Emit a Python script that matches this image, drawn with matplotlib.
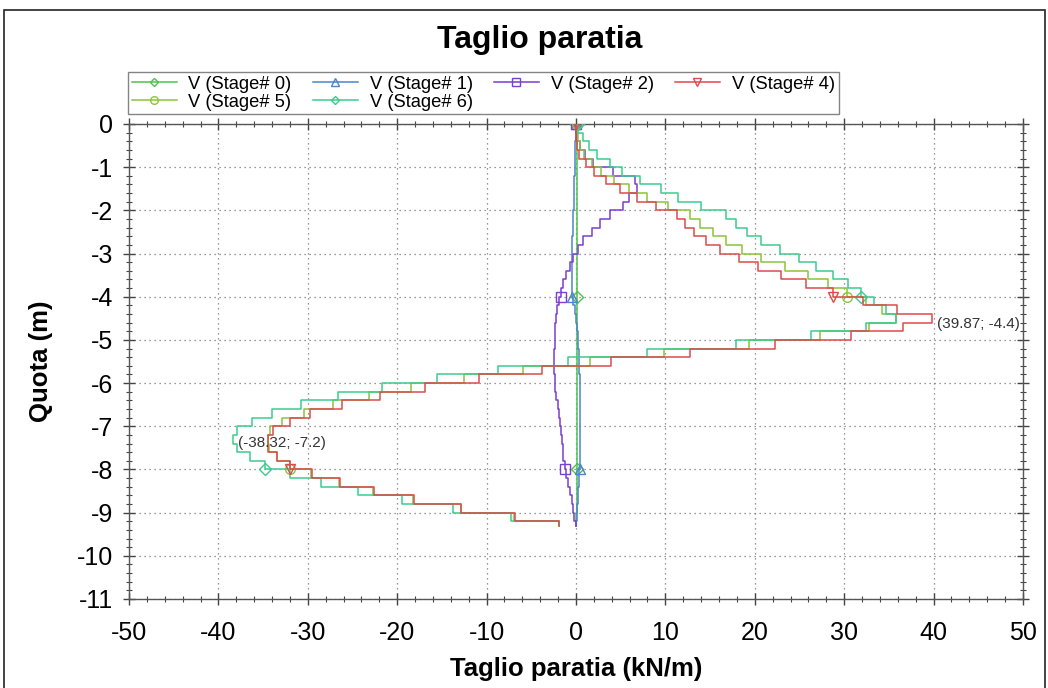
import matplotlib
matplotlib.use("Agg")
import numpy as np
import matplotlib.pyplot as plt
from matplotlib.lines import Line2D
from matplotlib.patches import Rectangle
from matplotlib.ticker import MultipleLocator

plt.rcParams['font.family'] = ['Liberation Sans', 'DejaVu Sans']
plt.rcParams['axes.unicode_minus'] = False

# depth of the step boundaries (m)
quota = [0.0, -0.2, -0.4, -0.6, -0.8, -1.0, -1.2, -1.4, -1.6, -1.8,
         -2.0, -2.2, -2.4, -2.6, -2.8, -3.0, -3.2, -3.4, -3.6, -3.8,
         -4.0, -4.2, -4.4, -4.6, -4.8, -5.0, -5.2, -5.4, -5.6, -5.8,
         -6.0, -6.2, -6.4, -6.6, -6.8, -7.0, -7.2, -7.4, -7.6, -7.8,
         -8.0, -8.2, -8.4, -8.6, -8.8, -9.0, -9.2, -9.3]

# shear (kN/m) for each depth interval
stage0 = [0.05, 0.05, 0.06, 0.06, 0.07, 0.07, 0.08, 0.08, 0.08, 0.09,
          0.09, 0.09, 0.1, 0.1, 0.1, 0.1, 0.1, 0.1, 0.1, 0.1,
          0.1, 0.1, 0.1, 0.1, 0.1, 0.1, 0.1, 0.1, 0.1, 0.1,
          0.1, 0.1, 0.1, 0.1, 0.1, 0.1, 0.1, 0.1, 0.1, 0.1,
          0.1, 0.09, 0.08, 0.07, 0.06, 0.05, 0.04]
stage1 = [0.0, -0.03, -0.06, -0.09, -0.12, -0.15, -0.18, -0.21, -0.24, -0.27,
          -0.3, -0.33, -0.36, -0.4, -0.44, -0.48, -0.5, -0.5, -0.48, -0.42,
          -0.3, -0.15, 0.0, 0.1, 0.18, 0.25, 0.3, 0.35, 0.38, 0.41,
          0.43, 0.45, 0.46, 0.46, 0.46, 0.46, 0.46, 0.45, 0.44, 0.42,
          0.38, 0.33, 0.27, 0.2, 0.14, 0.08, 0.03]
stage2 = [0.05, 0.15, 0.45, 1.0, 1.95, 4.1, 6.6, 6.8, 5.95, 5.3,
          3.8, 2.7, 1.75, 0.8, 0.26, -0.3, -0.67, -1.1, -1.4, -1.7,
          -1.95, -2.1, -2.2, -2.3, -2.35, -2.4, -2.45, -2.47, -2.45, -2.4,
          -2.3, -2.2, -2.05, -1.95, -1.8, -1.7, -1.6, -1.5, -1.4, -1.25,
          -1.1, -0.9, -0.7, -0.5, -0.35, -0.2, -0.05]
stage4 = [0.0, 0.05, 0.1, 0.3, 1.1, 2.05, 3.4, 4.9, 6.8, 9.0,
          11.3, 12.25, 13.2, 14.5, 16.1, 18.2, 20.4, 22.9, 25.7, 28.75,
          32.1, 35.9, 39.87, 36.6, 30.8, 22.3, 12.7, 3.9, -3.8, -10.8,
          -16.9, -21.9, -26.2, -29.7, -32.0, -33.9, -34.5, -34.5, -33.4, -32.0,
          -29.5, -26.4, -22.6, -18.1, -12.85, -6.8, -1.9]
stage5 = [0.1, 0.25, 0.5, 0.9, 1.75, 2.8, 4.2, 5.9, 8.0, 10.3,
          12.8, 13.85, 15.3, 16.8, 18.6, 20.7, 23.4, 26.0, 28.2, 30.3,
          32.4, 34.2, 35.75, 32.8, 27.3, 19.3, 9.9, 1.6, -5.9, -12.5,
          -18.4, -23.2, -27.2, -30.4, -32.9, -34.2, -34.4, -34.3, -33.4, -32.0,
          -29.6, -26.5, -22.7, -18.2, -12.9, -6.9, -1.9]
stage6 = [0.26, 0.8, 1.5, 2.4, 3.8, 5.2, 7.15, 9.5, 11.4, 14.0,
          16.8, 17.95, 19.1, 20.7, 22.8, 24.95, 26.9, 28.75, 30.4, 31.9,
          33.3, 34.7, 35.75, 32.4, 26.3, 17.9, 8.0, -0.85, -8.7, -15.6,
          -21.7, -26.6, -30.8, -34.0, -36.2, -37.9, -38.32, -37.9, -36.5, -34.75,
          -32.0, -28.5, -24.4, -19.5, -13.8, -7.3, -1.9]

labels = ['V (Stage# 0)', 'V (Stage# 1)', 'V (Stage# 2)',
          'V (Stage# 4)', 'V (Stage# 5)', 'V (Stage# 6)']
series = [stage0, stage1, stage2, stage4, stage5, stage6]
colors = ['#4cc34c', '#4a86c8', '#7a3fd0', '#dc4b4b', '#8cc43c', '#3ccb8e']
markers = ['D', '^', 's', 'v', 'o', 'D']
msizes = [6, 7, 7, 7, 7, 6]
zorders = [3, 3, 3, 6, 4, 5]

fig = plt.figure(figsize=(10.48, 6.88), dpi=100)
ax = fig.add_axes([0.1231, 0.1294, 0.853, 0.6904])

tops = np.array(quota[:-1])
bots = np.array(quota[1:])
y_step = np.column_stack([tops, bots]).ravel()

handles = []
for vals, lab, c, m, ms, z in zip(series, labels, colors, markers, msizes, zorders):
    x_step = np.repeat(vals, 2)
    ax.plot(x_step, y_step, color=c, lw=1.1, zorder=z)
    # markers at 0, -4 and -8 m
    idx = [0, 39, 79]
    ax.plot(x_step[idx], y_step[idx], ls='none', marker=m, ms=ms,
            mfc='none', mec=c, mew=1.0, zorder=z)
    handles.append(Line2D([], [], color=c, lw=1.1, marker=m, ms=ms - 1.5,
                          mfc='none', mec=c, mew=1.0, label=lab))

# labels for max / min
i_max = int(np.argmax(stage4))
ax.annotate('(%.2f; %.1f)' % (stage4[i_max], quota[i_max]),
            xy=(stage4[i_max], quota[i_max]), xytext=(3, -7),
            textcoords='offset points', fontsize=11, color='#333333',
            va='center', ha='left')
i_min = int(np.argmin(stage6))
ax.annotate('(%.2f; %.1f)' % (stage6[i_min], quota[i_min]),
            xy=(stage6[i_min], quota[i_min]), xytext=(3, -6),
            textcoords='offset points', fontsize=11, color='#333333',
            va='center', ha='left', zorder=10)

ax.set_xlim(-50, 50)
ax.set_ylim(-11, 0)
ax.xaxis.set_major_locator(MultipleLocator(10))
ax.xaxis.set_minor_locator(MultipleLocator(2))
ax.yaxis.set_major_locator(MultipleLocator(1))
ax.yaxis.set_minor_locator(MultipleLocator(0.2))
ax.tick_params(which='both', direction='inout', top=True, right=True,
               color='#444444')
ax.tick_params(which='major', length=9, width=1, labelsize=18, pad=7)
ax.tick_params(axis='x', which='major', pad=11)
ax.tick_params(which='minor', length=5, width=0.8)
ax.grid(True, which='major', ls=(0, (1, 3)), color='#777777', lw=0.9)
for s in ax.spines.values():
    s.set_color('#555555')
    s.set_linewidth(1.0)

ax.set_xlabel('Taglio paratia (kN/m)', fontsize=18.5, fontweight='bold', labelpad=9)
ax.set_ylabel('Quota (m)', fontsize=18.5, fontweight='bold', labelpad=17)
fig.text(540 / 1048, 1 - 40 / 688, 'Taglio paratia', fontsize=23,
         fontweight='bold', ha='center', va='center')

# row-wise order like the original legend
order = [0, 4, 1, 5, 2, 3]
leg = fig.legend(handles=[handles[i] for i in order], ncol=4, loc='upper left',
                 bbox_to_anchor=(128 / 1048, 1 - 72 / 688), fontsize=13.2,
                 frameon=True, fancybox=False, edgecolor='#666666',
                 handlelength=2.45, handletextpad=0.65, columnspacing=1.15,
                 borderpad=0.2, labelspacing=0.05, borderaxespad=0)
leg.get_frame().set_linewidth(1.0)

fig.patches.append(Rectangle((4 / 1048, -0.01), 1041 / 1048, 1 - 10 / 688 + 0.01,
                             transform=fig.transFigure, fill=False,
                             edgecolor='#222222', lw=1.2))

fig.savefig('out.png', dpi=100)
